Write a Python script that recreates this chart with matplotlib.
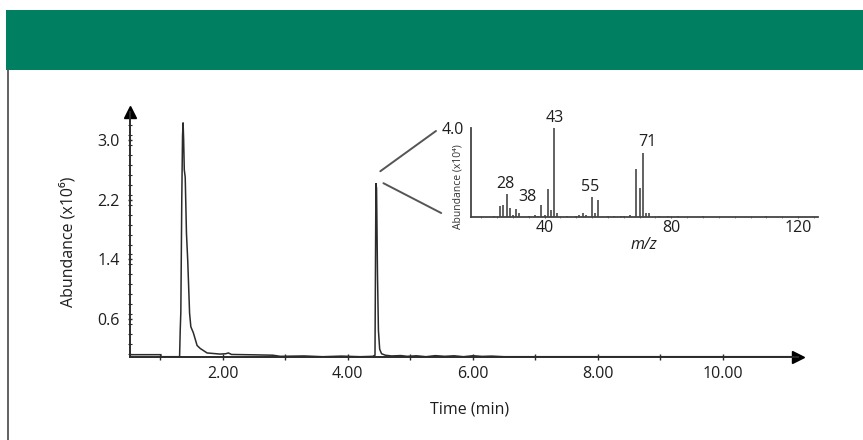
import matplotlib
matplotlib.use("Agg")
import matplotlib.pyplot as plt
from matplotlib.patches import Rectangle, ConnectionPatch
from matplotlib.lines import Line2D
from matplotlib.ticker import MultipleLocator, FixedLocator

plt.rcParams['font.family'] = ['Open Sans', 'DejaVu Sans']

# ---------------- data ----------------
# total ion chromatogram (time in min, abundance in x10^6)
tic_time = [0.52, 1.01, 1.012, 1.31, 1.32, 1.33, 1.345, 1.357, 1.366, 1.375,
            1.385, 1.40, 1.42, 1.44, 1.47, 1.49, 1.53, 1.59, 1.64, 1.75,
            1.96, 2.05, 2.09, 2.14, 2.5, 2.8, 2.92, 3.3, 3.6, 3.9,
            4.2, 4.40, 4.435, 4.45, 4.46, 4.475, 4.49, 4.51, 4.54, 4.60,
            4.70, 4.85, 4.95, 5.10, 5.25, 5.40, 5.55, 5.70, 5.85, 6.0,
            6.15, 6.3, 6.5, 11.2]
tic_abund = [0.127, 0.127, 0.10, 0.10, 0.45, 0.70, 2.2, 3.05, 3.23, 3.0,
             2.6, 2.5, 1.75, 1.39, 0.68, 0.50, 0.42, 0.25, 0.21, 0.15,
             0.135, 0.14, 0.15, 0.13, 0.125, 0.12, 0.105, 0.11, 0.10, 0.108,
             0.10, 0.105, 0.12, 2.42, 2.35, 1.2, 0.45, 0.2, 0.14, 0.12,
             0.11, 0.115, 0.105, 0.112, 0.10, 0.114, 0.105, 0.112, 0.10, 0.113,
             0.104, 0.108, 0.10, 0.10]

x_ticks = [2, 4, 6, 8, 10]
x_tick_labels = ["2.00", "4.00", "6.00", "8.00", "10.00"]
y_ticks = [0.6, 1.4, 2.2, 3.0]
y_tick_labels = ["0.6", "1.4", "2.2", "3.0"]

# mass spectrum (m/z, abundance in x10^4)
ms_mz = [20, 24, 26, 27, 28, 29, 30, 31, 32, 35, 37, 38, 39, 40, 41, 42, 43, 44,
         47, 50, 51, 52, 53, 55, 56, 57, 60, 62, 64, 65, 67, 69, 70, 71, 72, 73,
         76, 79, 82, 86, 90, 95, 100, 105, 110, 113, 118, 123]
ms_abund = [0.03, 0.05, 0.5, 0.55, 1.03, 0.4, 0.12, 0.36, 0.2, 0.05, 0.12, 0.04, 0.55,
            0.12, 1.26, 0.33, 4.0, 0.18, 0.04, 0.05, 0.1, 0.2, 0.1, 0.93, 0.18, 0.78,
            0.04, 0.05, 0.04, 0.08, 0.12, 2.15, 1.3, 2.88, 0.2, 0.18,
            0.04, 0.04, 0.05, 0.03, 0.04, 0.03, 0.03, 0.03, 0.04, 0.03, 0.03, 0.03]
ms_labels = ["28", "38", "43", "55", "71"]
ms_label_mz = [27.5, 34.5, 43.3, 54.5, 72.3]
ms_label_y = [1.5, 0.9, 4.45, 1.35, 3.4]
ms_x_ticks = [40, 80, 120]

# ---------------- figure ----------------
W, H = 863, 440
fig = plt.figure(figsize=(W / 100, H / 100), dpi=100)
fig.patch.set_facecolor("white")

def px_rect(x0, y0, x1, y1):
    return [x0 / W, 1 - y1 / H, (x1 - x0) / W, (y1 - y0) / H]

# header band and left border
fig.add_artist(Rectangle((6 / W, 1 - 70 / H), 1 - 6 / W, 60 / H,
                         transform=fig.transFigure, color="#008060", lw=0))
fig.add_artist(Line2D([7.5 / W, 7.5 / W], [0, 1 - 70 / H],
                      transform=fig.transFigure, color="#555555", lw=1.3))

ink = "#2b2b2b"
txt = "#1e1e1e"
FS = 11.5

# ---------------- main chromatogram ----------------
ax = fig.add_axes(px_rect(130, 111.7, 798, 356.7))
ax.plot(tic_time, tic_abund, color=ink, lw=1.1, solid_joinstyle="miter")
ax.set_xlim(0.517, 11.2)
ax.set_ylim(0.1, 3.376)
for s in ["top", "right"]:
    ax.spines[s].set_visible(False)
for s in ["left", "bottom"]:
    ax.spines[s].set_color(ink)
    ax.spines[s].set_linewidth(1.4)
ax.plot(1, 0, ">", color="black", markersize=9, transform=ax.transAxes, clip_on=False)
ax.plot(0, 1, "^", color="black", markersize=9, transform=ax.transAxes, clip_on=False)

ax.set_xticks(x_ticks)
ax.set_xticklabels(x_tick_labels)
ax.xaxis.set_minor_locator(FixedLocator([1, 3, 5, 7, 9]))
ax.set_yticks(y_ticks)
ax.set_yticklabels(y_tick_labels)
ax.yaxis.set_minor_locator(MultipleLocator(0.8 / 6))
ax.tick_params(axis="both", which="both", direction="inout", color=ink,
               labelsize=FS, labelcolor=txt)
ax.tick_params(axis="x", which="major", length=5, width=1, pad=4)
ax.tick_params(axis="x", which="minor", length=5, width=1)
ax.tick_params(axis="y", which="major", length=3, width=1, pad=6)
ax.tick_params(axis="y", which="minor", length=3, width=0.8)

fig.text(68 / W, 1 - 242 / H, "Abundance (x10⁶)", rotation=90,
         ha="center", va="center", fontsize=FS, color=txt)
fig.text(470 / W, 1 - 409 / H, "Time (min)", ha="center", va="center",
         fontsize=FS, color=txt)

# ---------------- inset mass spectrum ----------------
ins = fig.add_axes(px_rect(470.7, 128.3, 818, 217.3))
ins.patch.set_alpha(0)
ins.vlines(ms_mz, 0, ms_abund, color="#555555", lw=1.3)
ins.set_xlim(16.7, 126.3)
ins.set_ylim(0, 4.0)
for s in ["top", "right"]:
    ins.spines[s].set_visible(False)
for s in ["left", "bottom"]:
    ins.spines[s].set_color("#444444")
    ins.spines[s].set_linewidth(1.3)
ins.set_xticks(ms_x_ticks)
ins.xaxis.set_minor_locator(MultipleLocator(5))
ins.set_yticks([4.0])
ins.set_yticklabels(["4.0"])
ins.tick_params(axis="x", which="major", length=2, direction="inout", color="#555555",
                labelsize=FS, pad=1, labelcolor=txt)
ins.tick_params(axis="x", which="minor", length=2, direction="inout", color="#777777")
ins.tick_params(axis="y", length=0, labelsize=FS, pad=5, labelcolor=txt)
for lab, mz, yv in zip(ms_labels, ms_label_mz, ms_label_y):
    ins.text(mz, yv, lab, ha="center", va="center", fontsize=FS, color=txt,
             clip_on=False)
ins.set_xlabel("m/z", fontsize=FS, style="italic", labelpad=1, color=txt)
fig.text(458 / W, 1 - 187 / H, "Abundance (x10⁴)", rotation=90, ha="center",
         va="center", fontsize=7.5, color="#333333")

# zoom connector lines from the 4.46 min peak to the inset
for (tx, ty), (ix, iy) in [((4.52, 2.58), (-0.10, 0.97)), ((4.57, 2.42), (-0.085, 0.048))]:
    con = ConnectionPatch(xyA=(tx, ty), coordsA=ax.transData,
                          xyB=(ix, iy), coordsB=ins.transAxes,
                          color="#555555", lw=1.4)
    fig.add_artist(con)

fig.savefig("out.png", dpi=100, facecolor="white")
